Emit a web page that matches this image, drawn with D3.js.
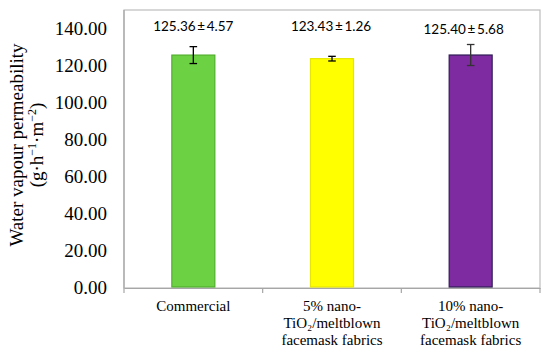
<!DOCTYPE html>
<html><head><meta charset="utf-8">
<script src="https://cdn.jsdelivr.net/npm/d3@7"></script>
<style>body{margin:0;background:#fff}svg{display:block}</style>
</head><body>
<svg id="c" width="550" height="352"></svg>
<script>
const categories = ["Commercial", "5% nano-TiO2/meltblown facemask fabrics", "10% nano-TiO2/meltblown facemask fabrics"];
const categoryLines = [["Commercial"], ["5% nano-", "TiO\u2082/meltblown", "facemask fabrics"], ["10% nano-", "TiO\u2082/meltblown", "facemask fabrics"]];
const values = [125.36, 123.43, 125.40];
const errors = [4.57, 1.26, 5.68];
const yTicks = [0, 20, 40, 60, 80, 100, 120, 140];
const fills = ["#6dd243", "#ffff00", "#7e2ba1"];
const strokes = ["#4fae2c", "#e6e600", "#2f1d55"];

const svg = d3.select("#c");
const L = 124, R = 540, T = 10, B = 288;
const x = d3.scaleBand().domain(categories).range([L, R]).padding(0);
const y = d3.scaleLinear().domain([0, 140]).range([287, 28]);
const barFrac = 0.31;
const bw = x.bandwidth() * barFrac;

// frame
svg.append("rect").attr("x", L).attr("y", T).attr("width", R - L).attr("height", B - T)
  .attr("fill", "none").attr("stroke", "#bdbdbd").attr("stroke-width", 1.2);
svg.append("line").attr("x1", L).attr("x2", L).attr("y1", T).attr("y2", B).attr("stroke", "#a6a6a6").attr("stroke-width", 1.2);

// bars
svg.selectAll("rect.bar").data(categories).join("rect").attr("class", "bar")
  .attr("x", d => x(d) + (x.bandwidth() - bw) / 2)
  .attr("y", (d, i) => y(values[i]))
  .attr("width", bw)
  .attr("height", (d, i) => y(0) - y(values[i]))
  .attr("fill", (d, i) => fills[i])
  .attr("stroke", (d, i) => strokes[i]).attr("stroke-width", 1.2);

// bottom axis
const xAxis = d3.axisBottom(x).tickSize(0).tickFormat("");
const gx = svg.append("g").attr("transform", `translate(0,${B})`).call(xAxis);
gx.select(".domain").attr("stroke", "#a6a6a6").attr("stroke-width", 1.2);
const bounds = categories.map(c => x(c)).concat([R]);
gx.selectAll("line.bt").data(bounds).join("line").attr("class", "bt")
  .attr("x1", d => d).attr("x2", d => d).attr("y1", 0).attr("y2", 5)
  .attr("stroke", "#a6a6a6").attr("stroke-width", 1.2);

// error bars
const eg = svg.append("g");
categories.forEach((c, i) => {
  const cx = x(c) + x.bandwidth() / 2;
  const col = i === 2 ? "#333" : "#000";
  eg.append("line").attr("x1", cx).attr("x2", cx).attr("y1", y(values[i] + errors[i])).attr("y2", y(values[i] - errors[i])).attr("stroke", col).attr("stroke-width", 1.3);
  [values[i] + errors[i], values[i] - errors[i]].forEach(v => {
    eg.append("line").attr("x1", cx - 3.8).attr("x2", cx + 3.8).attr("y1", y(v)).attr("y2", y(v)).attr("stroke", col).attr("stroke-width", 1.3);
  });
});

// value labels
const labelOffsets = [0, -1, -7];
const labelY = [31, 31, 34];
categories.forEach((c, i) => {
  const cx = x(c) + x.bandwidth() / 2 + labelOffsets[i];
  const t = svg.append("text").attr("x", cx).attr("y", labelY[i]).attr("text-anchor", "middle")
    .attr("font-family", "Lato, 'Open Sans', sans-serif").attr("font-size", 13.5).attr("fill", "#000");
  t.append("tspan").text(values[i].toFixed(2) + "\u2009");
  t.append("tspan").text("\u00b1");
  t.append("tspan").text("\u2009" + errors[i].toFixed(2));
});

// y ticks
svg.append("g").selectAll("text").data(yTicks).join("text")
  .attr("x", 107).attr("y", d => y(d)).attr("dy", "0.35em").attr("text-anchor", "end")
  .attr("font-family", "'Liberation Serif', 'Times New Roman', serif").attr("font-size", 19).attr("fill", "#000")
  .text(d => d3.format(".2f")(d));

// x labels
categories.forEach((c, i) => {
  const cx = x(c) + x.bandwidth() / 2;
  const t = svg.append("text").attr("text-anchor", "middle")
    .attr("font-family", "'Liberation Serif', 'Times New Roman', serif").attr("font-size", 15).attr("fill", "#000");
  categoryLines[i].forEach((ln, k) => {
    t.append("tspan").attr("x", cx).attr("y", 311 + k * 17).text(ln);
  });
});

// y title
const yt = svg.append("g").attr("transform", "translate(0,145) rotate(-90)");
yt.append("text").attr("x", 0).attr("y", 23).attr("text-anchor", "middle")
  .attr("font-family", "'Liberation Serif', 'Times New Roman', serif").attr("font-size", 19).text("Water vapour permeability");
const t2 = yt.append("text").attr("x", 0).attr("y", 43).attr("text-anchor", "middle")
  .attr("font-family", "'Liberation Serif', 'Times New Roman', serif").attr("font-size", 19);
t2.append("tspan").text("(g\u00b7h");
t2.append("tspan").attr("font-size", 12).attr("dy", -7).text("\u22121");
t2.append("tspan").attr("dy", 7).text("\u00b7m");
t2.append("tspan").attr("font-size", 12).attr("dy", -7).text("\u22122");
t2.append("tspan").attr("dy", 7).text(")");
</script>
</body></html>
